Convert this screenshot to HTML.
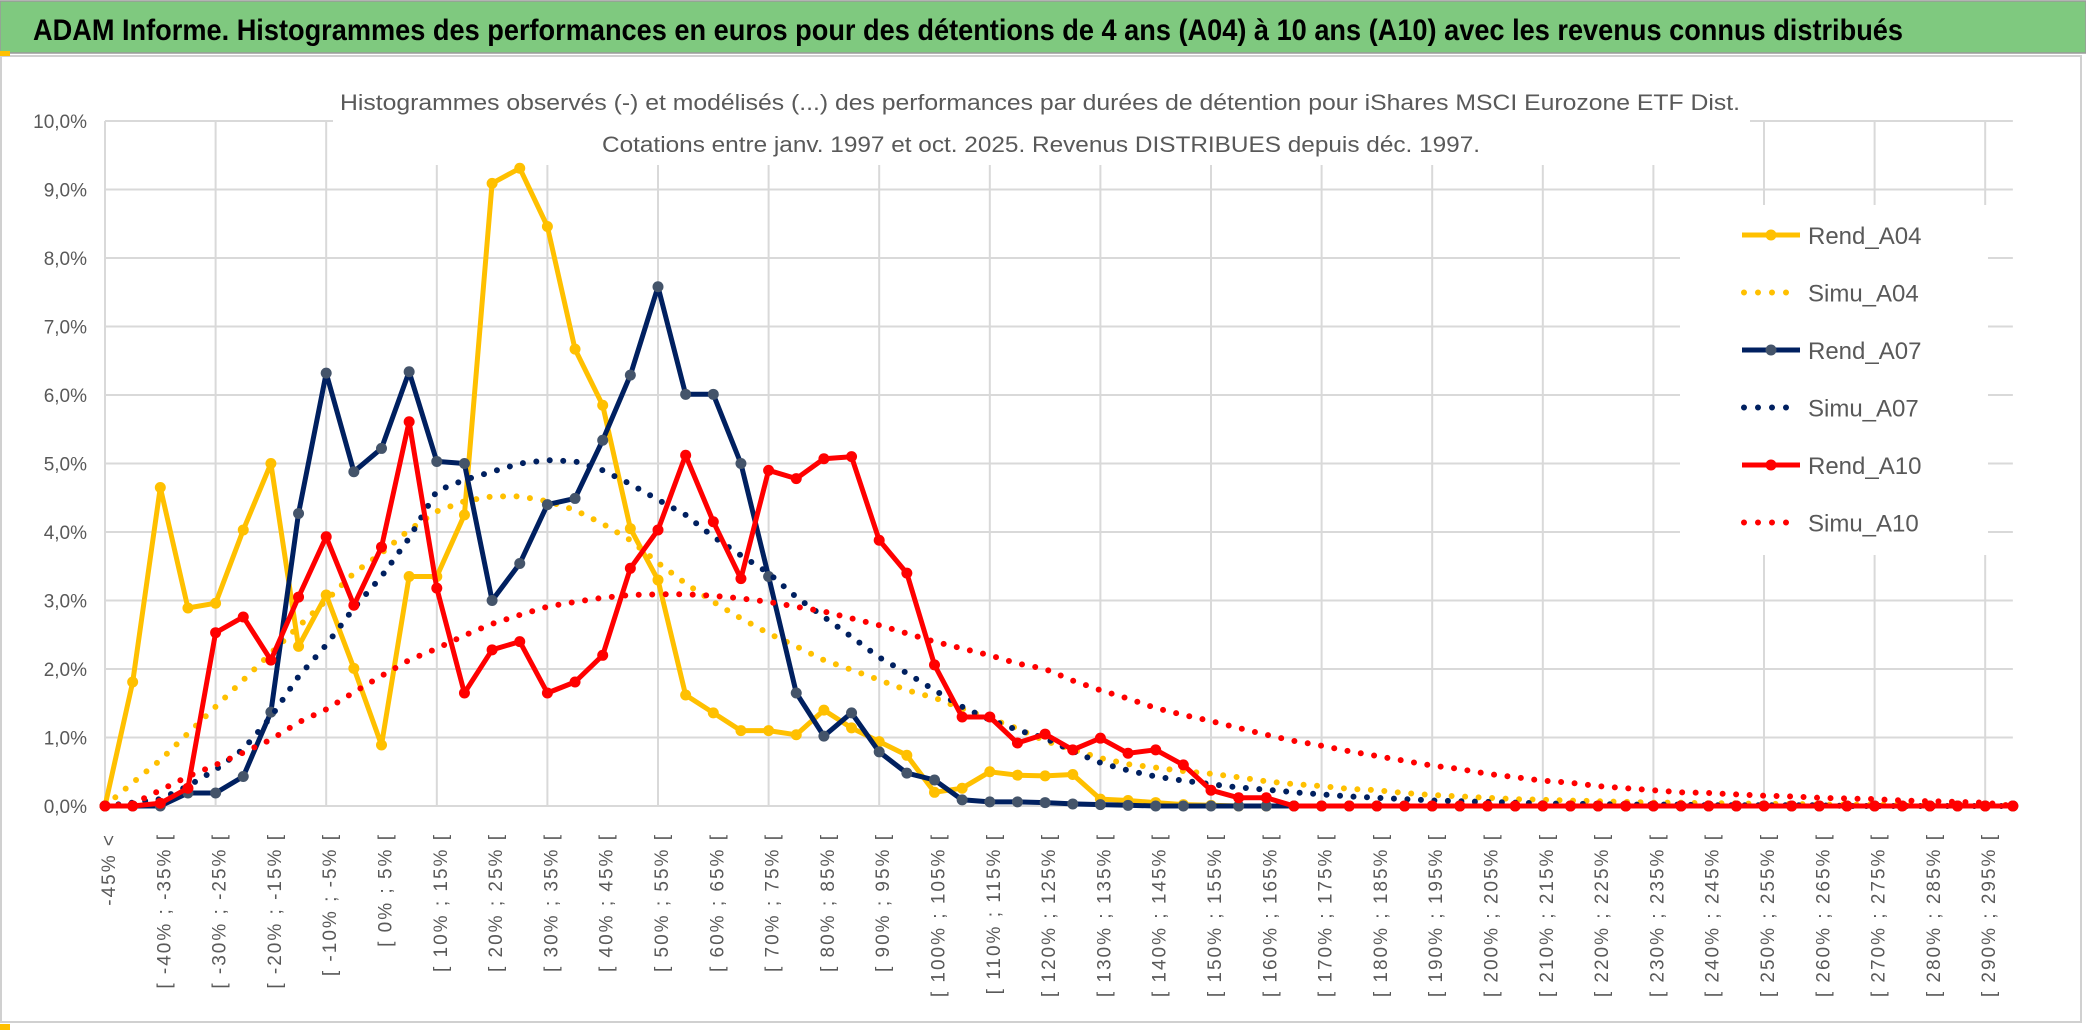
<!DOCTYPE html>
<html><head><meta charset="utf-8"><style>
html,body{margin:0;padding:0;background:#fff;width:2086px;height:1033px;overflow:hidden}
svg{display:block}
text{font-family:"Liberation Sans",sans-serif}
</style></head><body>
<svg id="chart" width="2086" height="1033" viewBox="0 0 2086 1033" xmlns="http://www.w3.org/2000/svg">
<rect x="0" y="1" width="2086" height="52" fill="#7FC97F" stroke="#9a9a9a" stroke-width="1.5"/>
<text x="33" y="40" font-size="30" font-weight="bold" fill="#000" textLength="1870" lengthAdjust="spacingAndGlyphs">ADAM Informe. Histogrammes des performances en euros pour des détentions de 4 ans (A04) à 10 ans (A10) avec les revenus connus distribués</text>
<rect x="1" y="56" width="2080" height="966" fill="#fff" stroke="#D0D0D0" stroke-width="2"/>
<rect x="0" y="51" width="10" height="5" fill="#FFC000"/>
<rect x="0" y="1024" width="10" height="6" fill="#FFC000"/>
<g id="grid"></g>
<rect x="333" y="70" width="1417" height="95" fill="#fff"/>
<text x="340" y="110" font-size="22" fill="#595959" textLength="1400" lengthAdjust="spacingAndGlyphs">Histogrammes observés (-) et modélisés (...) des performances par durées de détention pour iShares MSCI Eurozone ETF Dist.</text>
<text x="602" y="152" font-size="22" fill="#595959" textLength="878" lengthAdjust="spacingAndGlyphs">Cotations entre janv. 1997 et oct. 2025. Revenus DISTRIBUES depuis déc. 1997.</text>
<g id="ylabels"></g>
<g id="xlabels"></g>
<g id="series"></g>
<rect x="1680" y="205" width="308" height="350" fill="#fff"/>
<g id="legend"></g>
</svg>
<script>
const yTicks=[0,1,2,3,4,5,6,7,8,9,10];
const yTickLabels=["0,0%","1,0%","2,0%","3,0%","4,0%","5,0%","6,0%","7,0%","8,0%","9,0%","10,0%"];
const seriesNames=["Rend_A04","Simu_A04","Rend_A07","Simu_A07","Rend_A10","Simu_A10"];
const rendA04=[0,1.81,4.65,2.89,2.96,4.03,5.0,2.33,3.08,2.01,0.89,3.35,3.35,4.25,9.09,9.31,8.46,6.67,5.85,4.05,3.3,1.62,1.36,1.1,1.1,1.04,1.4,1.14,0.94,0.74,0.2,0.26,0.5,0.45,0.44,0.46,0.1,0.08,0.05,0.02,0.01,0,0,0,0,0,0,0,0,0,0,0,0,0,0,0,0,0,0,0,0,0,0,0,0,0,0,0,0,0];
const simuA04=[0,0.34,0.67,1.06,1.45,1.84,2.23,2.62,3.0,3.4,3.69,4.03,4.3,4.45,4.52,4.52,4.45,4.32,4.12,3.88,3.55,3.25,2.98,2.74,2.52,2.33,2.13,1.99,1.84,1.69,1.58,1.42,1.28,1.13,0.95,0.82,0.7,0.61,0.56,0.51,0.47,0.42,0.36,0.32,0.29,0.25,0.23,0.19,0.16,0.14,0.12,0.1,0.09,0.08,0.07,0.06,0.05,0.05,0.04,0.04,0.03,0.03,0.02,0.02,0.02,0.02,0.01,0.01,0.01,0.01];
const rendA07=[0,0,0,0.19,0.19,0.43,1.37,4.27,6.32,4.88,5.22,6.34,5.03,5.0,3.0,3.54,4.4,4.49,5.34,6.29,7.58,6.01,6.01,5.0,3.35,1.65,1.02,1.36,0.79,0.48,0.38,0.09,0.06,0.06,0.05,0.03,0.02,0.01,0,0,0,0,0,0,0,0,0,0,0,0,0,0,0,0,0,0,0,0,0,0,0,0,0,0,0,0,0,0,0,0];
const simuA07=[0,0.05,0.1,0.29,0.53,0.83,1.3,1.89,2.35,2.89,3.35,3.91,4.6,4.76,4.88,5.0,5.05,5.03,4.9,4.7,4.47,4.25,3.93,3.66,3.4,3.05,2.76,2.47,2.17,1.94,1.69,1.45,1.26,1.11,0.99,0.8,0.63,0.52,0.43,0.37,0.32,0.27,0.24,0.2,0.17,0.14,0.12,0.1,0.08,0.07,0.06,0.05,0.04,0.03,0.03,0.02,0.02,0.02,0.01,0.01,0.01,0.01,0.01,0,0,0,0,0,0,0];
const rendA10=[0,0,0.04,0.26,2.53,2.76,2.13,3.05,3.93,2.93,3.78,5.61,3.18,1.65,2.28,2.4,1.65,1.81,2.2,3.47,4.03,5.12,4.15,3.32,4.9,4.78,5.07,5.1,3.88,3.4,2.06,1.3,1.3,0.92,1.05,0.82,0.99,0.77,0.82,0.6,0.23,0.12,0.12,0,0,0,0,0,0,0,0,0,0,0,0,0,0,0,0,0,0,0,0,0,0,0,0,0,0,0];
const simuA10=[0,0.03,0.23,0.43,0.6,0.78,0.97,1.22,1.41,1.66,1.9,2.13,2.3,2.49,2.66,2.79,2.91,2.98,3.04,3.08,3.09,3.09,3.07,3.03,2.98,2.91,2.84,2.74,2.64,2.52,2.4,2.3,2.2,2.08,2.0,1.83,1.69,1.57,1.43,1.33,1.24,1.14,1.04,0.95,0.88,0.8,0.73,0.66,0.59,0.54,0.47,0.42,0.37,0.34,0.29,0.26,0.23,0.2,0.19,0.17,0.15,0.14,0.12,0.11,0.1,0.08,0.07,0.06,0.05,0.0];
const categories=(function(){const c=["-45% <"];for(let i=1;i<70;i++){const lo=-45+5*(i-1);c.push("[ "+lo+"% ; "+(lo+5)+"% [");}return c;})();

const NS="http://www.w3.org/2000/svg";
const X0=105, STEP=27.65, Y0=806, YS=68.5;
function xPos(i){return X0+STEP*i;}
function yPos(v){return Y0-YS*v;}
function mk(tag,attrs,parent){const e=document.createElementNS(NS,tag);for(const k in attrs)e.setAttribute(k,attrs[k]);parent.appendChild(e);return e;}

const grid=document.getElementById('grid');
yTicks.forEach(function(t){
  const l=mk('line',{x1:X0,x2:xPos(categories.length-1),y1:yPos(t),y2:yPos(t),stroke:'#D9D9D9','stroke-width':2},grid);
  
  
});
for(let i=0;i<categories.length;i+=4){
  const l=mk('line',{x1:xPos(i),x2:xPos(i),y1:yPos(10),y2:yPos(0),stroke:'#D9D9D9','stroke-width':2},grid);
  
  
}
const yl=document.getElementById('ylabels');
yTicks.forEach(function(t,k){
  const e=mk('text',{x:87,y:yPos(t)+7,'font-size':19,fill:'#595959','text-anchor':'end'},yl);
  e.textContent=yTickLabels[k];
  
  
});
const xl=document.getElementById('xlabels');
categories.forEach(function(c,i){
  if(i%2===1)return;
  const bx=xPos(i)+10, by=833;
  const e=mk('text',{x:bx,y:by,'font-size':19,fill:'#595959','text-anchor':'end','letter-spacing':'2',transform:'rotate(-90 '+bx+' '+by+')'},xl);
  e.textContent=c;
  
  
});

const sg=document.getElementById('series');
function pts(arr){return arr.map(function(v,i){return xPos(i).toFixed(1)+','+yPos(v).toFixed(1);}).join(' ');}
function solid(arr,color,mcolor,name){
  const p=mk('polyline',{points:pts(arr),fill:'none',stroke:color,'stroke-width':5,'stroke-linejoin':'round'},sg);
  
  
  arr.forEach(function(v,i){
    const m=mk('circle',{cx:xPos(i),cy:yPos(v),r:5.5,fill:mcolor},sg);
    
    
  });
}
function dotted(arr,color,name){
  const p=mk('polyline',{points:pts(arr),fill:'none',stroke:color,'stroke-width':6,'stroke-linecap':'round','stroke-dasharray':'0 13.5'},sg);
  
  
}
solid(rendA04,'#FFC000','#FFC000','rend-a04');
dotted(simuA04,'#FFC000','simu-a04');
solid(rendA07,'#002060','#44546A','rend-a07');
dotted(simuA07,'#002060','simu-a07');
solid(rendA10,'#FF0000','#FF0000','rend-a10');
dotted(simuA10,'#FF0000','simu-a10');

const lg=document.getElementById('legend');
const legColors=['#FFC000','#FFC000','#002060','#002060','#FF0000','#FF0000'];
const legMark=['#FFC000',null,'#44546A',null,'#FF0000',null];
seriesNames.forEach(function(n,k){
  const y=235+57.5*k;
  let s;
  if(k%2===0){
    s=mk('line',{x1:1742,x2:1800,y1:y,y2:y,stroke:legColors[k],'stroke-width':5},lg);
    mk('circle',{cx:1771,cy:y,r:5.5,fill:legMark[k]},lg);
  } else {
    s=mk('line',{x1:1744,x2:1800,y1:y,y2:y,stroke:legColors[k],'stroke-width':6,'stroke-linecap':'round','stroke-dasharray':'0 14'},lg);
  }
  
  
  const t=mk('text',{x:1808,y:y+9,'font-size':24,fill:'#595959'},lg);
  t.textContent=n;
  
  
});
</script>
</body></html>
